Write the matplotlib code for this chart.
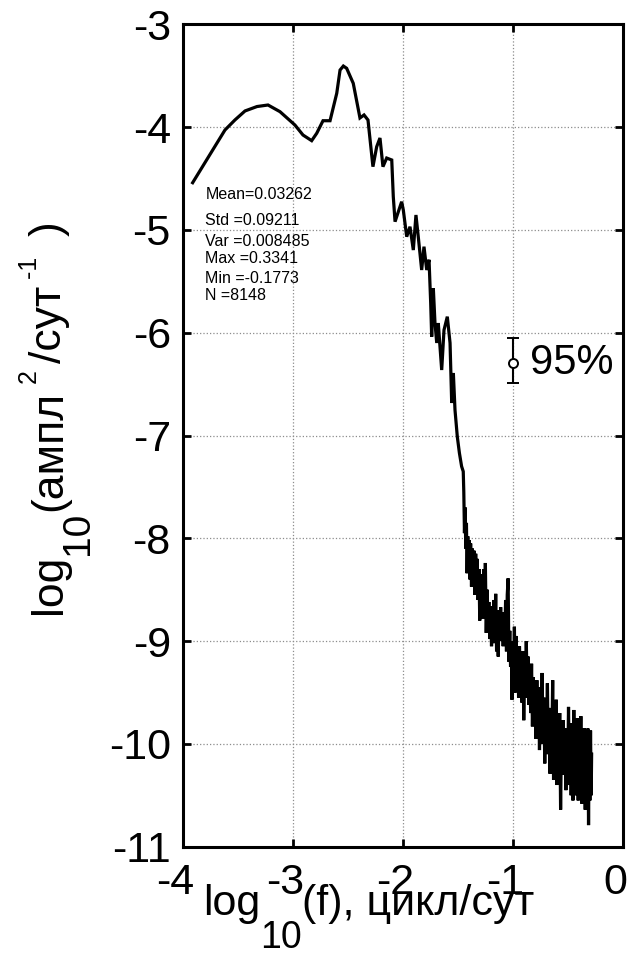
import numpy as np
import matplotlib
matplotlib.use("Agg")
import matplotlib.pyplot as plt
from matplotlib.transforms import IdentityTransform, ScaledTranslation

plt.rcParams['font.family'] = ['Liberation Sans', 'DejaVu Sans']
plt.rcParams['axes.unicode_minus'] = False

# спектр: log10(f) и log10(ампл^2/сут^-1)
lf = [-3.915, -3.621, -3.530, -3.439, -3.330, -3.230, -3.121, -2.985, -2.912, -2.833,
      -2.787, -2.730, -2.666, -2.605, -2.575, -2.545, -2.515, -2.455, -2.394, -2.357,
      -2.321, -2.276, -2.242, -2.212, -2.185, -2.151, -2.105, -2.091, -2.075, -2.015,
      -2.000, -1.969, -1.939, -1.909, -1.885, -1.864, -1.833, -1.812, -1.787, -1.766,
      -1.751, -1.742, -1.727, -1.712, -1.696, -1.682, -1.651, -1.630, -1.600, -1.575,
      -1.560, -1.545, -1.530, -1.509, -1.490, -1.470, -1.455,
      -1.450, -1.444, -1.438, -1.432, -1.426, -1.420, -1.414, -1.408, -1.400, -1.394,
      -1.388, -1.380, -1.372, -1.365, -1.358, -1.350, -1.342, -1.335, -1.328, -1.320,
      -1.312, -1.305, -1.298, -1.290, -1.282, -1.275, -1.268, -1.260, -1.254, -1.246,
      -1.238, -1.230, -1.222, -1.214, -1.206, -1.198, -1.190, -1.182, -1.175, -1.167,
      -1.160, -1.152, -1.145, -1.137, -1.130, -1.122, -1.115, -1.107, -1.100, -1.092,
      -1.085, -1.077, -1.070, -1.062, -1.055, -1.047, -1.040, -1.032, -1.025, -1.018,
      -1.012, -1.005, -0.998, -0.990, -0.983, -0.976, -0.968, -0.960, -0.952, -0.944,
      -0.936, -0.928, -0.920, -0.912, -0.905, -0.897, -0.890, -0.882, -0.874, -0.866,
      -0.858, -0.850, -0.842, -0.834, -0.826, -0.818, -0.810, -0.802, -0.794, -0.786,
      -0.778, -0.770, -0.762, -0.754, -0.746, -0.738, -0.730, -0.722, -0.714, -0.706,
      -0.698, -0.690, -0.682, -0.674, -0.666, -0.658, -0.650, -0.642, -0.634, -0.626,
      -0.618, -0.610, -0.602, -0.594, -0.586, -0.578, -0.570, -0.562, -0.554, -0.546,
      -0.538, -0.530, -0.522, -0.514, -0.506, -0.498, -0.490, -0.482, -0.474, -0.466,
      -0.458, -0.450, -0.442, -0.434, -0.426, -0.418, -0.410, -0.402, -0.394, -0.386,
      -0.378, -0.370, -0.362, -0.354, -0.346, -0.338, -0.330, -0.322, -0.316, -0.310,
      -0.304, -0.298, -0.292, -0.288]
lp = [-4.541, -4.028, -3.930, -3.843, -3.800, -3.785, -3.850, -3.980, -4.077, -4.132,
      -4.060, -3.938, -3.938, -3.671, -3.445, -3.406, -3.428, -3.574, -3.911, -3.882,
      -3.931, -4.385, -4.191, -4.106, -4.385, -4.301, -4.320, -4.677, -4.920, -4.726,
      -4.806, -5.066, -4.969, -5.196, -4.855, -5.066, -5.390, -5.163, -5.390, -5.290,
      -5.711, -6.039, -5.568, -5.906, -6.100, -5.906, -6.363, -5.974, -5.844, -6.100,
      -6.684, -6.392, -6.752, -7.012, -7.170, -7.300, -7.350,
      -7.55, -7.95, -7.70, -8.10, -7.85, -8.34, -7.98, -8.20, -8.02, -8.40,
      -8.05, -8.47, -8.10, -8.35, -8.12, -8.55, -8.15, -8.45, -8.20, -8.60,
      -8.30, -8.80, -8.35, -8.62, -8.40, -8.78, -8.30, -8.70, -8.24, -8.92,
      -8.50, -8.80, -8.62, -8.98, -8.66, -9.05, -8.70, -9.02, -8.60, -8.95,
      -8.54, -9.10, -8.70, -9.15, -8.75, -9.00, -8.67, -8.95, -8.72, -9.05,
      -8.80, -8.98, -8.60, -9.10, -8.55, -8.39, -9.20, -8.90, -9.25, -9.05,
      -9.57, -9.00, -9.40, -8.86, -9.50, -8.95, -9.45, -9.10, -9.55, -9.05,
      -9.30, -9.18, -9.60, -9.10, -9.77, -9.20, -9.55, -9.00, -9.45, -9.15,
      -9.62, -9.25, -9.70, -9.22, -9.83, -9.35, -9.75, -9.40, -9.95, -9.38,
      -9.85, -9.45, -10.06, -9.50, -9.90, -9.31, -10.00, -9.55, -10.19, -9.60,
      -9.95, -9.41, -10.10, -9.65, -10.29, -9.70, -10.05, -9.38, -10.35, -9.75,
      -10.15, -9.57, -10.40, -9.85, -10.20, -9.70, -10.64, -9.90, -10.30, -9.77,
      -10.25, -9.85, -10.45, -9.95, -10.32, -9.64, -10.40, -9.80, -10.50, -10.00,
      -10.55, -9.67, -10.30, -9.90, -10.50, -9.75, -10.55, -9.95, -10.35, -9.73,
      -10.58, -9.95, -10.45, -9.85, -10.64, -9.90, -10.50, -9.85, -10.79, -9.95,
      -10.55, -9.87, -10.50, -10.10]

stats = ["Mean=0.03262", "Std =0.09211", "Var =0.008485",
         "Max =0.3341", "Min =-0.1773", "N =8148"]
stats_y = [-4.651, -4.904, -5.108, -5.283, -5.468, -5.634]

ci_x = -1.0
ci_y = -6.292
ci_lo = 0.195
ci_hi = 0.237

xticks = [-4, -3, -2, -1, 0]
yticks = [-11, -10, -9, -8, -7, -6, -5, -4, -3]

W, H = 640, 956
fig = plt.figure(figsize=(W / 100, H / 100), dpi=100)
ax = fig.add_axes([183.3 / W, 1 - 846.7 / H, 440 / W, 822.4 / H])

ax.plot(lf, lp, color='k', lw=2.3, solid_joinstyle='miter')
ax.errorbar([ci_x], [ci_y], yerr=[[ci_lo], [ci_hi]], fmt='o', mfc='white', mec='k',
            ms=6.5, mew=1.4, ecolor='k', elinewidth=1.5, capsize=4, capthick=1.5)
ax.text(-0.848, ci_y, "95%", fontsize=30, ha='left', va='center')

for s, yy in zip(stats, stats_y):
    ax.text(-3.80, yy, s, fontsize=11.5, ha='left', va='center')

ax.set_xlim(-4, 0)
ax.set_ylim(-11, -3)
ax.set_xticks(xticks)
ax.set_yticks(yticks)
ax.grid(True, color='#8c8c8c', linestyle=':', lw=0.9)
for sp in ax.spines.values():
    sp.set_linewidth(2.2)
ax.tick_params(direction='in', top=True, right=True, length=6, width=2,
               labelsize=31)
ax.tick_params(axis='x', pad=12)
ax.tick_params(axis='y', pad=9)
for lab in ax.get_xticklabels():
    lab.set_transform(lab.get_transform() + ScaledTranslation(-8 / 100, 0, fig.dpi_scale_trans))

# подписи осей собираем по кускам (большие индексы как в исходнике)
rend = fig.canvas.get_renderer()


def chain(x, y, parts, rot=0):
    for s, size, shift in parts:
        if rot == 0:
            px, py = x, y - shift
        else:
            px, py = x + shift, y
        t = fig.text(px, py, s, fontsize=size, ha='left', va='baseline', rotation=rot,
                     rotation_mode='anchor', transform=IdentityTransform())
        bb = t.get_window_extent(rend)
        if rot == 0:
            x = bb.x1
        else:
            y = bb.y1


chain(203, H - 915, [("log", 31, 0), ("10", 27, 33), ("(f), цикл/сут", 31, 0)])
chain(61, H - 614, [("log", 32, 0), ("10", 28, 27), ("(ампл", 32, 0), (" 2 ", 18, -24),
                    ("/сут", 32, 0), (" -1   ", 18, -24), (")", 32, 0)], rot=90)

fig.savefig("out.png", dpi=100)
